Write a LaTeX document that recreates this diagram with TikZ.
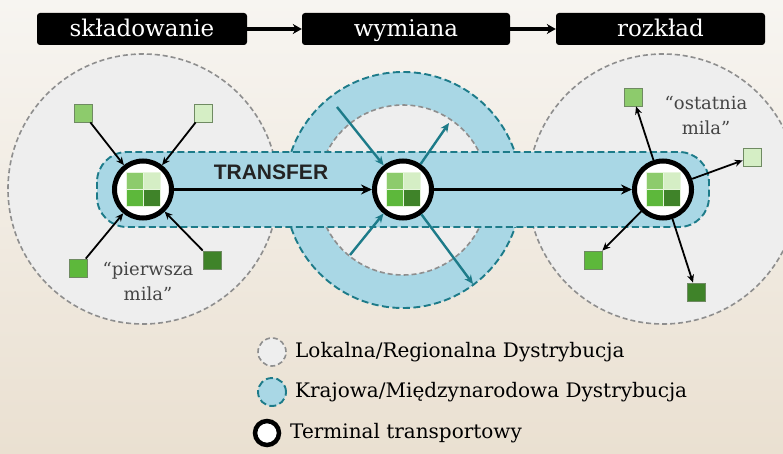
\documentclass[tikz,border=0pt]{standalone}
\usepackage{fontspec}
\setmainfont{DejaVu Serif}
\newfontfamily\sansb{Liberation Sans}
\usetikzlibrary{arrows.meta}
\definecolor{bgtop}{HTML}{F7F5F1}
\definecolor{bgbot}{HTML}{EAE0D1}
\definecolor{lgray}{HTML}{EEEEEE}
\definecolor{dgray}{HTML}{8E8E8E}
\definecolor{lblue}{HTML}{A9D7E5}
\definecolor{tealc}{HTML}{1D7B89}
\definecolor{gA}{HTML}{8DCB6C}
\definecolor{gB}{HTML}{D5EEC5}
\definecolor{gC}{HTML}{5DB83B}
\definecolor{gD}{HTML}{3F8329}
\definecolor{sqedge}{HTML}{6F8A62}
\definecolor{labc}{HTML}{454545}
\definecolor{trc}{HTML}{232323}
\tikzset{
  localc/.style={fill=lgray, draw=dgray, line width=1.6pt, dash pattern=on 5pt off 3pt},
  natc/.style={fill=lblue, draw=tealc, line width=1.9pt, dash pattern=on 7pt off 3.5pt},
  term/.style={circle, fill=white, draw=black, line width=5pt, minimum size=57pt, inner sep=0pt},
  hdr/.style={fill=black, rounded corners=3pt, text=white, minimum width=210pt, minimum height=32pt, inner sep=0pt, text height=19pt, text depth=3pt, font=\fontsize{23}{26}\selectfont},
  sq/.style={minimum size=18pt, inner sep=0pt, draw=sqedge, line width=0.8pt},
  blk/.style={draw=black, line width=1.8pt, -{Stealth[length=8pt,width=7pt]}},
  big/.style={draw=black, line width=3pt, -{Stealth[length=11pt,width=10pt]}},
  harr/.style={draw=black, line width=3.4pt, -{Stealth[length=9pt,width=10pt]}},
  tarr/.style={draw=tealc, line width=2.4pt, -{Stealth[length=9pt,width=8pt]}},
  lab/.style={align=center, text=labc, font=\fontsize{18}{25}\selectfont},
  legt/.style={anchor=west, inner sep=0pt, font=\fontsize{20}{23}\selectfont},
  icon/.pic={
    \fill[gA, draw=gB!60!white, line width=0.7pt] (-17,-17) rectangle (0,0);
    \fill[gB, draw=gB!60!white, line width=0.7pt] (0,-17) rectangle (17,0);
    \fill[gC, draw=gB!60!white, line width=0.7pt] (-17,0) rectangle (0,17);
    \fill[gD, draw=gB!60!white, line width=0.7pt] (0,0) rectangle (17,17);
  }
}
\begin{document}
\begin{tikzpicture}[x=1pt,y=-1pt]
% background
\fill[top color=bgtop, bottom color=bgbot] (0pt,0pt) rectangle (783pt,-454pt);
\useasboundingbox (0pt,0pt) rectangle (783pt,-454pt);

% headers
\node[hdr, minimum width=210pt] (h1) at (142,29) {składowanie};
\node[hdr, minimum width=208pt] (h2) at (406,29) {wymiana};
\node[hdr, minimum width=209pt] (h3) at (660.5,29) {rozkład};
\draw[harr] (h1) -- (h2);
\draw[harr] (h2) -- (h3);

% local distribution circles
\draw[localc] (143,189) circle[radius=135];
\draw[localc] (663,189) circle[radius=135];

% national ring
\draw[natc] (403,190) circle[radius=118];
\draw[localc] (403,190) circle[radius=85];

% transfer band
\draw[natc, rounded corners=30pt] (97,152) rectangle (709,227);

% terminals
\node[term] (t1) at (143,189.5) {};
\node[term] (t2) at (403,189.5) {};
\node[term] (t3) at (663,189.5) {};
\pic at (143,189.5) {icon};
\pic at (403,189.5) {icon};
\pic at (663,189.5) {icon};

% TRANSFER
\node[font=\sansb\bfseries\fontsize{21}{21}\selectfont, text=trc] (tr) at (271,172) {TRANSFER};
\draw[big] (t1) -- (t2);
\draw[big] (t2) -- (t3);

% first mile
\node[sq, fill=gA] (s1) at (83,113) {};
\node[sq, fill=gB] (s2) at (203,113) {};
\node[sq, fill=gC] (s3) at (78,268) {};
\node[sq, fill=gD] (s4) at (212,260) {};
\draw[blk] (s1) -- (t1);
\draw[blk] (s2) -- (t1);
\draw[blk] (s3) -- (t1);
\draw[blk] (s4) -- (t1);
\node[lab] (pm) at (148,281) {“pierwsza\\mila”};

% exchange arrows
\coordinate (a1) at (337,107);
\coordinate (a2) at (449,123);
\coordinate (a3) at (350,255);
\coordinate (a4) at (473,284);
\draw[tarr] (a1) -- (t2);
\draw[tarr] (t2) -- (a2);
\draw[tarr] (a3) -- (t2);
\draw[tarr] (t2) -- (a4);

% last mile
\node[sq, fill=gA] (r1) at (633,97) {};
\node[sq, fill=gB] (r2) at (752,157) {};
\node[sq, fill=gC] (r3) at (593,260) {};
\node[sq, fill=gD] (r4) at (696,292) {};
\draw[blk] (t3) -- (r1);
\draw[blk] (t3) -- (r2);
\draw[blk] (t3) -- (r3);
\draw[blk] (t3) -- (r4);
\node[lab] (om) at (706,115) {“ostatnia\\mila”};

% legend
\node[localc, circle, minimum size=28pt, inner sep=0pt] (l1) at (272,352) {};
\node[natc, circle, minimum size=28pt, inner sep=0pt] (l2) at (272,392) {};
\node[circle, draw=black, line width=4.5pt, fill=white, minimum size=24pt, inner sep=0pt] (l3) at (267,433) {};
\node[legt] (lt1) at (295,352) {Lokalna/Regionalna Dystrybucja};
\node[legt] (lt2) at (295,392) {Krajowa/Międzynarodowa Dystrybucja};
\node[legt] (lt3) at (290,433) {Terminal transportowy};
\end{tikzpicture}
\end{document}
